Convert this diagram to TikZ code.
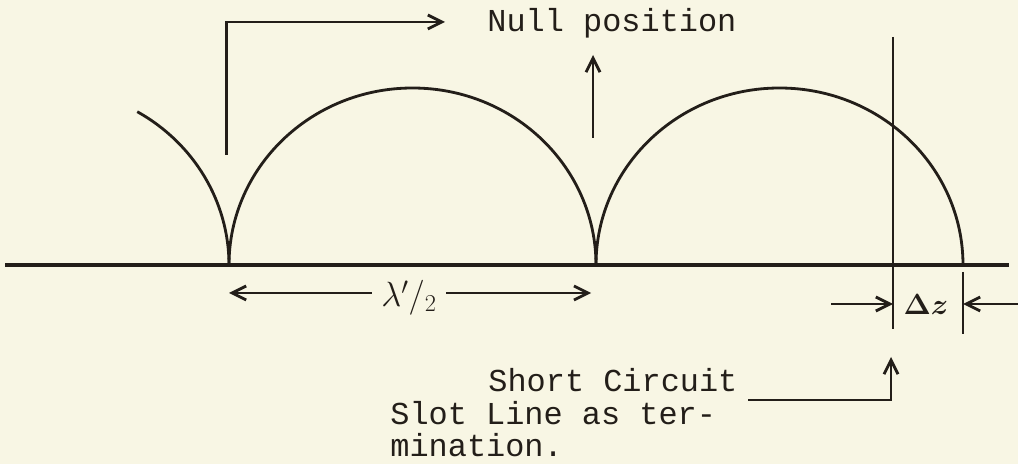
\documentclass[tikz,border=0pt]{standalone}
\usepackage{amsmath}
\usepackage{fontspec}
\newfontfamily\typefont{Liberation Mono}
\usetikzlibrary{arrows.meta, positioning}
\definecolor{paper}{RGB}{248, 246, 228}
\definecolor{ink}{RGB}{35, 30, 25}

\begin{document}
\begin{tikzpicture}[x=0.025cm, y=0.025cm, line width=2pt, draw=ink, text=ink,
    barb/.style={-{Straight Barb[length=10pt, width=10pt]}},
    typelabel/.style={font=\typefont\fontsize{22.7}{24}\selectfont, inner sep=0pt, anchor=base west}]
        % 背景
        \fill[paper] (0,-199) rectangle (1018,265);
        \useasboundingbox (0,-199) rectangle (1018,265);

        % 槽线
        \draw[line width=2.4pt] (5,0) -- (1009,0);

        % 零点
        \coordinate (nullA) at (229,0);
        \coordinate (nullB) at (596,0);
        \coordinate (nullC) at (963,0);

        % 驻波
        \draw (45.5,0) ++(60:183.5 and 177) arc[start angle=60, end angle=0, x radius=183.5, y radius=177];
        \draw (nullA) arc[start angle=180, end angle=0, x radius=183.5, y radius=177];
        \draw (nullB) arc[start angle=180, end angle=0, x radius=183.5, y radius=177];

        % Null position
        \node[typelabel] (nullpos) at (486,233) {Null position};
        \coordinate (brfoot) at (226.5,110);
        \coordinate (brtip) at (445,243);
        \draw[barb] (brfoot) |- (brtip);
        \coordinate (upfoot) at (593,127);
        \coordinate (uptip) at (593,210);
        \draw[barb] (upfoot) -- (uptip);

        % 短路面
        \coordinate (reftop) at (893,228);
        \coordinate (refbot) at (893,-64);
        \draw (reftop) -- (refbot);
        \coordinate (endtop) at (963,-7);
        \coordinate (endbot) at (963,-69);
        \draw (endtop) -- (endbot);

        % 半波长
        \node[font=\fontsize{26}{28}\selectfont, inner sep=6pt] (halfwave) at (409,-33) {$\lambda'/_{2}$};
        \coordinate (lamrow) at (0,-28);
        \draw[barb] (halfwave.west |- lamrow) -- (nullA |- lamrow);
        \draw[barb] (halfwave.east |- lamrow) -- ([xshift=-0.12cm]nullB |- lamrow);

        % Delta z
        \node[font=\fontsize{22}{24}\selectfont, inner sep=0pt] (dz) at (926,-39) {$\boldsymbol{\Delta z}$};
        \coordinate (dzleft) at (831,-39);
        \coordinate (dzright) at (1018,-39);
        \draw[barb] (dzleft) -- (refbot |- dz);
        \draw[barb] (dzright) -- (endbot |- dz);

        % 说明
        \node[typelabel] (shortc) at (487,-127) {Short Circuit};
        \node[typelabel] (slotl) at (389,-160) {Slot Line as ter-};
        \node[typelabel] (termn) at (389,-192) {mination.};
        \coordinate (scfoot) at (748,-135);
        \coordinate (sctip) at (891,-92);
        \draw[barb] (scfoot) -| (sctip);

    \end{tikzpicture}
\end{document}
